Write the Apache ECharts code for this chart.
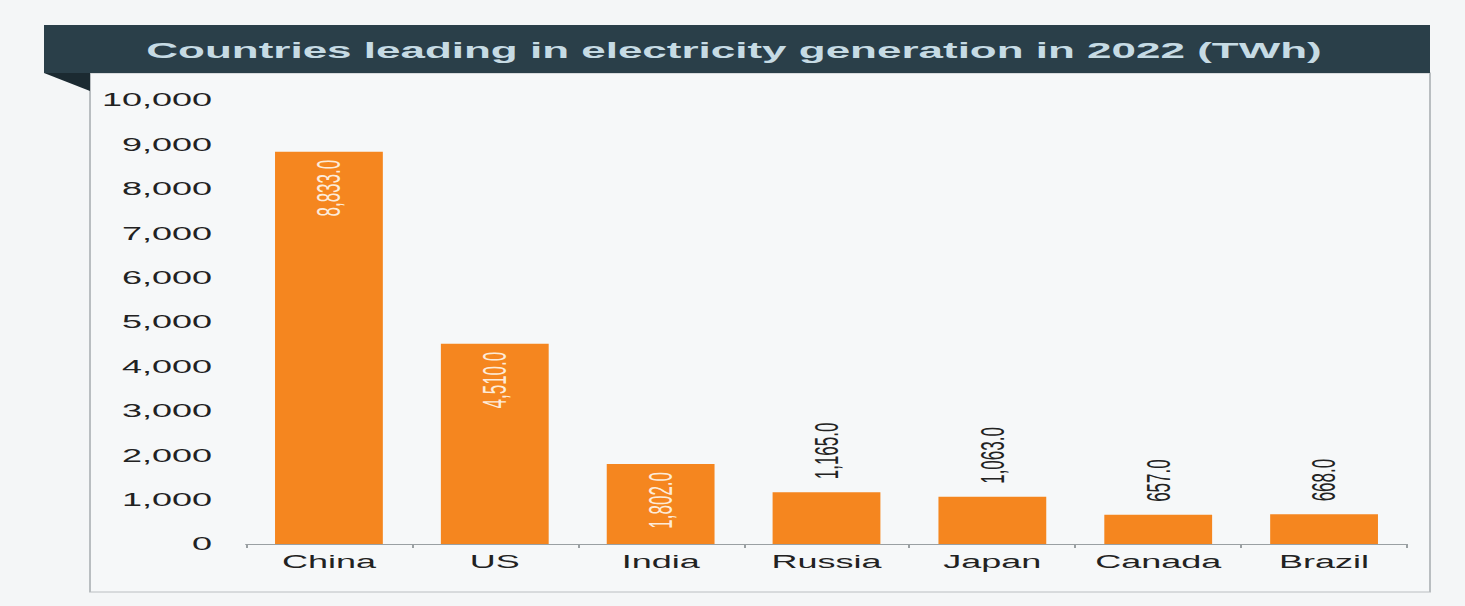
<!DOCTYPE html>
<html>
<head>
<meta charset="utf-8">
<script src="https://cdn.jsdelivr.net/npm/echarts@6/dist/echarts.min.js"></script>
<style>
html,body{margin:0;padding:0;background:#f4f6f7;overflow:hidden;}
#wrap{width:1465px;height:606px;overflow:hidden;}
#chart{width:732.5px;height:606px;transform:scaleX(2);transform-origin:0 0;}
</style>
</head>
<body>
<div id="wrap"><div id="chart"></div></div>
<script>
const titleText = "Countries leading in electricity generation in 2022 (TWh)";
const categories = ["China", "US", "India", "Russia", "Japan", "Canada", "Brazil"];
const values = [8833, 4510, 1802, 1165, 1063, 657, 668];
const yMin = 0, yMax = 10000, yInterval = 1000;

const chart = echarts.init(document.getElementById('chart'), null, {renderer: 'svg'});
const fmt = v => v.toLocaleString('en-US', {minimumFractionDigits: 1, maximumFractionDigits: 1});

const seriesData = values.map(v => {
  const inside = v > 1500;
  return {
    value: v,
    label: inside ? {
      position: 'insideTop', distance: 8, align: 'right', verticalAlign: 'middle', color: '#fdebd9'
    } : {
      position: 'top', distance: 13, align: 'left', verticalAlign: 'middle', color: '#222'
    }
  };
});

chart.setOption({
  backgroundColor: '#f4f6f7',
  graphic: [
    {type: 'rect', shape: {x: 45, y: 73, width: 670, height: 519}, style: {fill: '#f6f8f9', stroke: '#b9bec1', lineWidth: 1}, z: -10},
    {type: 'rect', shape: {x: 22, y: 25, width: 693, height: 48}, style: {fill: '#2a3f49'}, z: -5},
    {type: 'polygon', shape: {points: [[22, 73], [45, 73], [45, 91]]}, style: {fill: '#1b2a31'}, z: -5},
    {type: 'text', x: 367, y: 50, style: {text: titleText, fill: '#c6dbe4', align: 'center', verticalAlign: 'middle', font: 'bold 22px "Liberation Sans", Arial, sans-serif'}, z: 5}
  ],
  grid: {left: 123, right: 29.5, top: 100, bottom: 62, containLabel: false},
  xAxis: {
    type: 'category',
    data: categories,
    axisLine: {lineStyle: {color: '#9aa0a3', width: 1}},
    axisTick: {show: true, length: 4, lineStyle: {color: '#9aa0a3'}},
    axisLabel: {color: '#222', fontSize: 18, fontFamily: '"Liberation Sans", Arial, sans-serif', margin: 9}
  },
  yAxis: {
    type: 'value',
    min: yMin, max: yMax, interval: yInterval,
    axisLine: {show: false},
    axisTick: {show: false},
    splitLine: {show: false},
    axisLabel: {color: '#222', fontSize: 18, fontFamily: '"Liberation Sans", Arial, sans-serif', margin: 17}
  },
  series: [{
    type: 'bar',
    data: seriesData,
    barCategoryGap: '35%',
    itemStyle: {color: '#f5861f'},
    label: {
      show: true,
      rotate: 90,
      fontSize: 17,
      fontFamily: '"Liberation Sans", Arial, sans-serif',
      formatter: p => fmt(p.value)
    }
  }]
});
</script>
</body>
</html>
